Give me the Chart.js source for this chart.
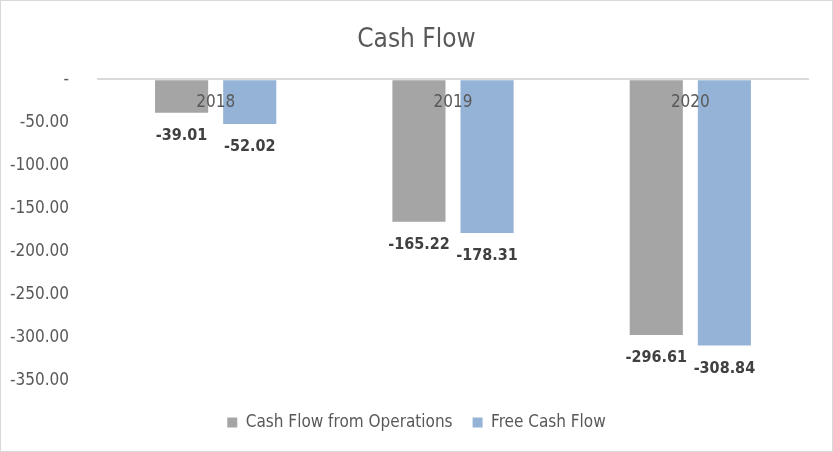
<!DOCTYPE html>
<html>
<head>
<meta charset="utf-8">
<script src="https://cdn.jsdelivr.net/npm/chart.js@4"></script>
<style>
  html, body { margin: 0; padding: 0; background: #fff; }
  #wrap { position: relative; width: 831px; height: 450px; border: 1px solid #d9d9d9; }
</style>
</head>
<body>
<div id="wrap"><canvas id="cashFlow"></canvas></div>
<script>
// data
const years = ['2018', '2019', '2020'];
const cashFromOps = [-39.01, -165.22, -296.61];
const freeCashFlow = [-52.02, -178.31, -308.84];

const FONT = '"Liberation Sans Narrow", "DejaVu Sans Condensed", "Liberation Sans", sans-serif';

// category names sit just under the zero line, values under each bar
const labelPlugin = {
  id: 'labels',
  afterDatasetsDraw(chart) {
    const { ctx, scales } = chart;
    const zeroY = scales.y.getPixelForValue(0);
    ctx.save();
    ctx.textAlign = 'center';
    ctx.textBaseline = 'middle';
    ctx.fillStyle = '#595959';
    ctx.font = '17px ' + FONT;
    years.forEach((yr, i) => {
      ctx.fillText(yr, scales.x.getPixelForValue(i), zeroY + 23);
    });
    ctx.fillStyle = '#404040';
    ctx.font = 'bold 16px ' + FONT;
    chart.data.datasets.forEach((ds, di) => {
      chart.getDatasetMeta(di).data.forEach((bar, i) => {
        ctx.fillText(ds.data[i].toFixed(2), bar.x, bar.y + 23);
      });
    });
    ctx.restore();
  }
};

const ctx = document.getElementById('cashFlow').getContext('2d');
new Chart(ctx, {
  type: 'bar',
  data: {
    labels: years,
    datasets: [
      {
        label: 'Cash Flow from Operations',
        data: cashFromOps,
        backgroundColor: '#a5a5a5',
        barPercentage: 0.78,
        categoryPercentage: 0.574
      },
      {
        label: 'Free Cash Flow',
        data: freeCashFlow,
        backgroundColor: '#95b3d7',
        barPercentage: 0.78,
        categoryPercentage: 0.574
      }
    ]
  },
  options: {
    responsive: true,
    maintainAspectRatio: false,
    animation: false,
    layout: { padding: { left: 0, right: 0, top: 0, bottom: 10 } },
    plugins: {
      title: {
        display: true,
        text: 'Cash Flow',
        color: '#595959',
        font: { family: FONT, size: 26, weight: 'normal' },
        padding: { top: 24, bottom: 23 }
      },
      legend: {
        position: 'bottom',
        labels: {
          color: '#595959',
          font: { family: FONT, size: 17 },
          boxWidth: 10,
          boxHeight: 10,
          padding: 20
        }
      },
      tooltip: { enabled: false }
    },
    scales: {
      // hidden x axis, its height is the gap between plot and legend
      x: {
        display: true,
        border: { display: false },
        grid: { display: false },
        ticks: { display: false },
        afterFit: s => { s.height = 13; }
      },
      y: {
        min: -350,
        max: 0,
        border: { display: false },
        grid: {
          drawTicks: false,
          lineWidth: 2,
          color: c => c.tick.value === 0 ? '#d9d9d9' : 'rgba(0,0,0,0)'
        },
        ticks: {
          stepSize: 50,
          padding: 28,
          color: '#595959',
          font: { family: FONT, size: 17 },
          callback: v => v === 0 ? '-' : v.toFixed(2)
        },
        afterFit: s => { s.width = 96; }
      },
      // empty right axis, only to keep the plot off the right edge
      yRight: {
        position: 'right',
        display: true,
        border: { display: false },
        grid: { display: false },
        ticks: { display: false },
        afterFit: s => { s.width = 23; }
      }
    }
  },
  plugins: [labelPlugin]
});
</script>
</body>
</html>
